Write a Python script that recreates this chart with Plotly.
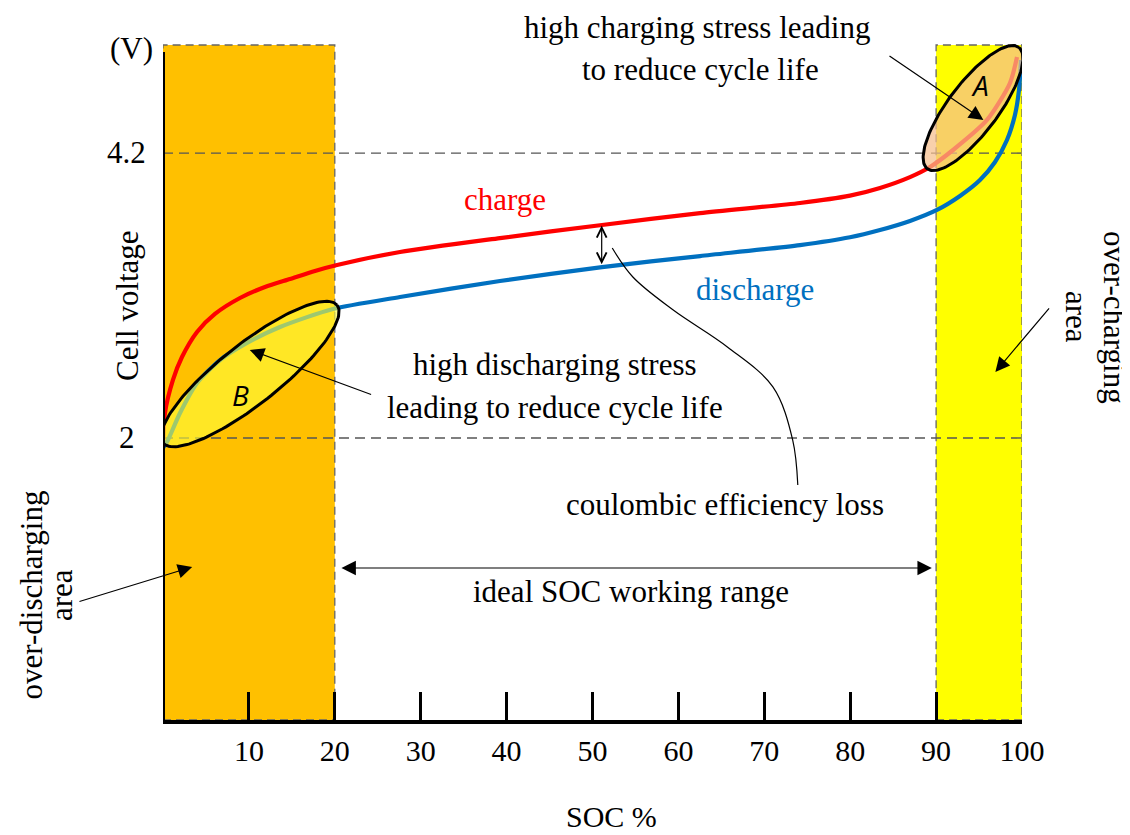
import numpy as np
import plotly.graph_objects as go

# charge / discharge curves (SOC %, cell voltage V)
soc_charge = [0, 0.23, 1.16, 2.21, 3.96, 6.05, 8.96, 11.87, 14.78, 17.69, 20.26, 27.59,
              39.23, 51.11, 62.52, 74.16, 79.98, 83.47, 86.96, 89.29, 91.97, 95.93, 98.6, 99.42]
v_charge = [1.946, 2.193, 2.448, 2.625, 2.819, 2.958, 3.081, 3.166, 3.228, 3.290, 3.336, 3.436,
            3.544, 3.645, 3.737, 3.815, 3.872, 3.931, 4.015, 4.093, 4.224, 4.456, 4.741, 4.942]

soc_discharge = [0, 0.58, 1.98, 3.96, 6.64, 9.78, 13.62, 19.79, 27.59, 39.23, 51.11, 62.52,
                 74.16, 79.98, 83.47, 86.96, 90.10, 92.78, 95.11, 96.86, 98.25, 99.18, 99.65, 99.88]
v_discharge = [1.923, 1.985, 2.193, 2.425, 2.602, 2.734, 2.857, 2.996, 3.089, 3.212, 3.320, 3.405,
               3.490, 3.550, 3.606, 3.676, 3.761, 3.869, 3.992, 4.131, 4.301, 4.494, 4.687, 4.919]

x_ticks = [10, 20, 30, 40, 50, 60, 70, 80, 90, 100]
y_levels = [2, 4.2]
y_level_text = ['2', '4.2']

over_discharge_band = [0, 20]
over_charge_band = [90, 100]

# curved pointer for "coulombic efficiency loss"
loss_soc = [73.9, 73.3, 71.0, 65.7, 59.4, 54.7, 52.3]
loss_v = [1.637, 1.985, 2.394, 2.703, 2.988, 3.243, 3.467]

SERIF = 'Liberation Serif'
X_RANGE = [0, 100]
Y_RANGE = [-0.178, 5.089]
W, H = 1130, 835
M = dict(l=155, r=116, t=30, b=123)
PX_X = (W - M['l'] - M['r']) / (X_RANGE[1] - X_RANGE[0])
PX_Y = (H - M['t'] - M['b']) / (Y_RANGE[1] - Y_RANGE[0])
BAND_TOP = 5.035


def ellipse(cx, cy, a_px, b_px, ang_deg, n=160):
    t = np.linspace(0, 2 * np.pi, n)
    th = np.radians(ang_deg)
    dx = a_px * np.cos(t) * np.cos(th) - b_px * np.sin(t) * np.sin(th)
    dy = a_px * np.cos(t) * np.sin(th) + b_px * np.sin(t) * np.cos(th)
    return cx + dx / PX_X, cy + dy / PX_Y


fig = go.Figure()
fig.add_trace(go.Scatter(x=soc_charge, y=v_charge, mode='lines',
                         line=dict(color='#FF0000', width=4.2, shape='spline', smoothing=0.7)))
fig.add_trace(go.Scatter(x=soc_discharge, y=v_discharge, mode='lines',
                         line=dict(color='#0070C0', width=4.2, shape='spline', smoothing=0.7)))

ex, ey = ellipse(94.3, 4.548, 76, 25, 53)
fig.add_trace(go.Scatter(x=ex, y=ey, mode='lines', fill='toself',
                         fillcolor='rgba(245,190,140,0.72)', line=dict(color='black', width=3)))
ex, ey = ellipse(10.13, 2.494, 111, 30, 38.3)
fig.add_trace(go.Scatter(x=ex, y=ey, mode='lines', fill='toself',
                         fillcolor='rgba(255,255,60,0.62)', line=dict(color='black', width=3)))

fig.add_trace(go.Scatter(x=loss_soc, y=loss_v, mode='lines',
                         line=dict(color='black', width=1.2, shape='spline')))

# bands and reference lines
band_line = dict(color='#666666', width=1.3, dash='8px,5px')
fig.add_shape(type='rect', x0=over_discharge_band[0], x1=over_discharge_band[1],
              y0=Y_RANGE[0], y1=BAND_TOP, fillcolor='#FFC000', line=band_line, layer='below')
fig.add_shape(type='rect', x0=over_charge_band[0], x1=over_charge_band[1],
              y0=Y_RANGE[0], y1=BAND_TOP, fillcolor='#FFFF00', line=band_line, layer='below')
for v in y_levels:
    fig.add_shape(type='line', x0=0, x1=100, y0=v, y1=v,
                  line=dict(color='#555555', width=1.4, dash='10px,6px'), layer='below')
fig.add_shape(type='line', x0=0, x1=0, y0=Y_RANGE[0], y1=4.98,
              line=dict(color='black', width=4), layer='above')


def label(text, x, y, size=31, color='black', angle=0, ref='x', xanchor='center'):
    xr, yr = ('x', 'y') if ref == 'x' else ('paper', 'paper')
    fig.add_annotation(text=text, x=x, y=y, xref=xr, yref=yr, showarrow=False,
                       xanchor=xanchor, yanchor='middle', textangle=angle,
                       font=dict(family=SERIF, size=size, color=color))


def arrow(x0, y0, x1, y1, head=2, size=2.4, side='end'):
    fig.add_annotation(x=x1, y=y1, ax=x0, ay=y0, xref='x', yref='y', axref='x', ayref='y',
                       text='', showarrow=True, arrowhead=head, startarrowhead=head,
                       arrowsize=size, startarrowsize=size, arrowwidth=1.2,
                       arrowcolor='black', arrowside=side)


label('high charging stress leading', 0.6217, 1.0161, ref='paper')
label('to reduce cycle life', 62.6, 4.842)
label('charge', 39.8, 3.838, color='#FF0000')
label('discharge', 68.9, 3.143, color='#0070C0')
label('high discharging stress', 45.6, 2.564)
label('leading to reduce cycle life', 45.6, 2.239)
label('coulombic efficiency loss', 65.4, 1.483)
label('ideal SOC working range', 54.5, 0.811)
label('Cell voltage', -0.0419, 0.607, angle=-90, ref='paper')
label('over-discharging', -0.152, 0.1833, angle=-90, ref='paper')
label('area', -0.1176, 0.1833, angle=-90, ref='paper')
label('over-charging', 1.1083, 0.5909, angle=90, ref='paper')
label('area', 1.064, 0.5909, angle=90, ref='paper')
label('(V)', -0.0093, 0.9839, ref='paper', xanchor='right')
label('SOC %', 0.5227, -0.1408, size=30, ref='paper')
# voltage levels on the y axis
label(y_level_text[1], -0.0175, 0.8314, ref='paper', xanchor='right')
label(y_level_text[0], -0.0303, 0.4135, ref='paper', xanchor='right')

fig.add_annotation(text='<i>A</i>', x=95.1, y=4.726, showarrow=False,
                   font=dict(family='Open Sans', size=28, color='black'))
fig.add_annotation(text='<i>B</i>', x=9.0, y=2.332, showarrow=False,
                   font=dict(family='Open Sans', size=28, color='black'))

arrow(84.4, 4.958, 95.5, 4.456)
arrow(24.4, 2.332, 10.1, 2.680)
arrow(-9.9, 0.734, 3.4, 1.004)
arrow(103.3, 3.012, 96.9, 2.510)
arrow(20.6, 0.996, 89.5, 0.996, side='end+start')
arrow(51.07, 3.33, 51.07, 3.64, head=5, size=1.6, side='end+start')
arrow(52.3, 3.467, 51.8, 3.492, head=5, size=1.6)

fig.update_layout(width=W, height=H, margin=M, plot_bgcolor='white', paper_bgcolor='white',
                  showlegend=False, font=dict(family=SERIF, color='black'))
fig.update_xaxes(range=X_RANGE, tickvals=x_ticks, ticks='inside', ticklen=28, tickwidth=3,
                 tickcolor='black', showline=True, linewidth=4, linecolor='black',
                 showgrid=False, zeroline=False, ticklabelstandoff=1,
                 tickfont=dict(family=SERIF, size=30))
fig.update_yaxes(range=Y_RANGE, showticklabels=False, ticks='',
                 showline=False, showgrid=False, zeroline=False)

fig.write_html("out.html")
